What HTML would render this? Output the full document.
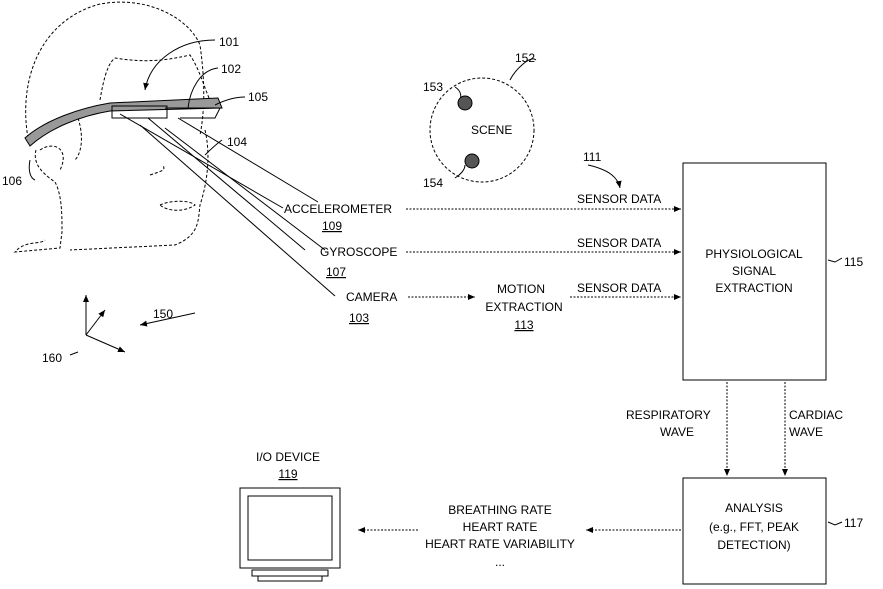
<!DOCTYPE html>
<html><head><style>html,body{margin:0;padding:0;background:#fff}svg{display:block}</style></head><body>
<svg width="883" height="589" viewBox="0 0 883 589" xmlns="http://www.w3.org/2000/svg" font-family="Liberation Sans, sans-serif" font-size="12" fill="none" stroke="#000">
<defs><marker id="a" markerWidth="8" markerHeight="6" refX="7" refY="3" orient="auto"><path d="M0,0 L7,3 L0,6 Z" fill="#000" stroke="none"/></marker></defs>
<!-- head -->
<g stroke-dasharray="3,2" stroke-width="1">
<path d="M28,138 C18,80 40,20 100,4 C150,-5 190,20 200,45 C205,80 205,110 200,135"/>
<path d="M100,100 C105,70 110,62 115,58 C140,62 160,62 190,55 C200,70 205,90 210,100"/>
<path d="M36,150 C32,165 45,175 55,182 C62,195 62,215 62,232 L60,248 L15,252 C25,240 40,245 45,240"/>
<path d="M205,130 C212,160 205,190 200,205 C198,220 200,235 175,245 L70,250"/>
<path d="M160,205 C170,200 190,200 195,205 C185,212 168,212 160,205"/>
<path d="M150,175 C165,170 165,170 163,165"/>
<path d="M40,150 C55,140 70,150 60,170"/>
<path d="M78,118 C85,140 80,155 75,160"/>
</g>
<!-- glasses -->
<path d="M25,138 C45,120 80,108 110,103 L218,98 L222,108 L110,111 C80,116 50,128 30,146 Z" fill="#999" stroke="#000"/>
<rect x="112" y="106" width="55" height="12"/>
<path d="M165,108 L220,108 L215,118 L180,118"/>
<!-- rods -->
<g stroke-width="1">
<path d="M120,114 L283,208"/><path d="M148,118 L305,250"/><path d="M140,125 L335,296"/>
<path d="M178,118 L318,202"/><path d="M165,128 L325,250"/>
</g>
<!-- leader lines -->
<g stroke-width="1">
<path d="M215,40 C180,40 150,60 145,90" marker-end="url(#a)"/>
<path d="M218,68 C200,70 190,90 188,108"/>
<path d="M245,97 C235,97 225,100 215,105"/>
<path d="M222,140 C215,145 210,150 205,155"/>
<path d="M35,180 C30,178 28,170 30,160"/>
<path d="M195,313 L140,325" marker-end="url(#a)"/>
<path d="M455,87 C460,90 462,95 460,100"/><path d="M455,178 C460,175 465,170 465,165"/>
<path d="M536,60 C530,55 515,70 510,80"/>
<path d="M588,165 C610,170 618,178 620,188" marker-end="url(#a)"/>
<path d="M828,260 L835,262 L842,258"/>
<path d="M828,522 L835,525 L842,522"/>
<path d="M78,352 L70,355"/>
</g>
<!-- axes -->
<g stroke-width="1"><path d="M86,335 L86,295" marker-end="url(#a)"/><path d="M86,335 L125,352" marker-end="url(#a)"/><path d="M86,335 L105,310" marker-end="url(#a)"/></g>
<!-- scene -->
<circle cx="482" cy="130" r="52" stroke-dasharray="3,2"/>
<circle cx="465" cy="103" r="7" fill="#555"/><circle cx="472" cy="161" r="7" fill="#555"/>
<!-- boxes -->
<rect x="683" y="163" width="143" height="217"/>
<rect x="683" y="478" width="143" height="106"/>
<!-- monitor -->
<rect x="240" y="488" width="100" height="80"/><rect x="248" y="496" width="84" height="64"/>
<rect x="252" y="570" width="76" height="6"/><rect x="258" y="576" width="64" height="5"/>
<!-- connectors -->
<g stroke-dasharray="2,1.5" stroke-width="1">
<path d="M406,209 L681,209" marker-end="url(#a)"/>
<path d="M406,252 L681,252" marker-end="url(#a)"/>
<path d="M408,297 L475,297" marker-end="url(#a)"/>
<path d="M570,297 L681,297" marker-end="url(#a)"/>
<path d="M727,382 L727,476" marker-end="url(#a)"/>
<path d="M785,382 L785,476" marker-end="url(#a)"/>
<path d="M681,530 L586,530" marker-end="url(#a)"/>
<path d="M418,530 L358,530" marker-end="url(#a)"/>
</g>
<g fill="#000" stroke="none">
<text x="219" y="46">101</text><text x="221" y="73">102</text><text x="248" y="101">105</text><text x="227" y="146">104</text><text x="2" y="185">106</text>
<text x="153" y="318">150</text><text x="42" y="362">160</text>
<text x="515" y="62">152</text><text x="423" y="91">153</text><text x="423" y="187">154</text>
<text x="471" y="134">SCENE</text><text x="583" y="161">111</text>
<text x="284" y="213">ACCELEROMETER</text><text x="322" y="230" text-decoration="underline">109</text>
<text x="320" y="256">GYROSCOPE</text><text x="326" y="276" text-decoration="underline">107</text>
<text x="346" y="301">CAMERA</text><text x="349" y="322" text-decoration="underline">103</text>
<text x="521" y="293" text-anchor="middle">MOTION</text><text x="524" y="311" text-anchor="middle">EXTRACTION</text><text x="524" y="329" text-anchor="middle" text-decoration="underline">113</text>
<text x="577" y="203">SENSOR DATA</text><text x="577" y="247">SENSOR DATA</text><text x="577" y="292">SENSOR DATA</text>
<text x="754" y="258" text-anchor="middle">PHYSIOLOGICAL</text><text x="754" y="275" text-anchor="middle">SIGNAL</text><text x="754" y="292" text-anchor="middle">EXTRACTION</text>
<text x="844" y="266">115</text><text x="844" y="527">117</text>
<text x="626" y="419">RESPIRATORY</text><text x="660" y="436">WAVE</text>
<text x="789" y="419">CARDIAC</text><text x="789" y="436">WAVE</text>
<text x="754" y="512" text-anchor="middle">ANALYSIS</text><text x="754" y="531" text-anchor="middle">(e.g., FFT, PEAK</text><text x="754" y="549" text-anchor="middle">DETECTION)</text>
<text x="500" y="514" text-anchor="middle">BREATHING RATE</text><text x="500" y="531" text-anchor="middle">HEART RATE</text><text x="500" y="548" text-anchor="middle">HEART RATE VARIABILITY</text><text x="500" y="566" text-anchor="middle">...</text>
<text x="288" y="461" text-anchor="middle">I/O DEVICE</text><text x="288" y="478" text-anchor="middle" text-decoration="underline">119</text>
</g>
</svg>
</body></html>
